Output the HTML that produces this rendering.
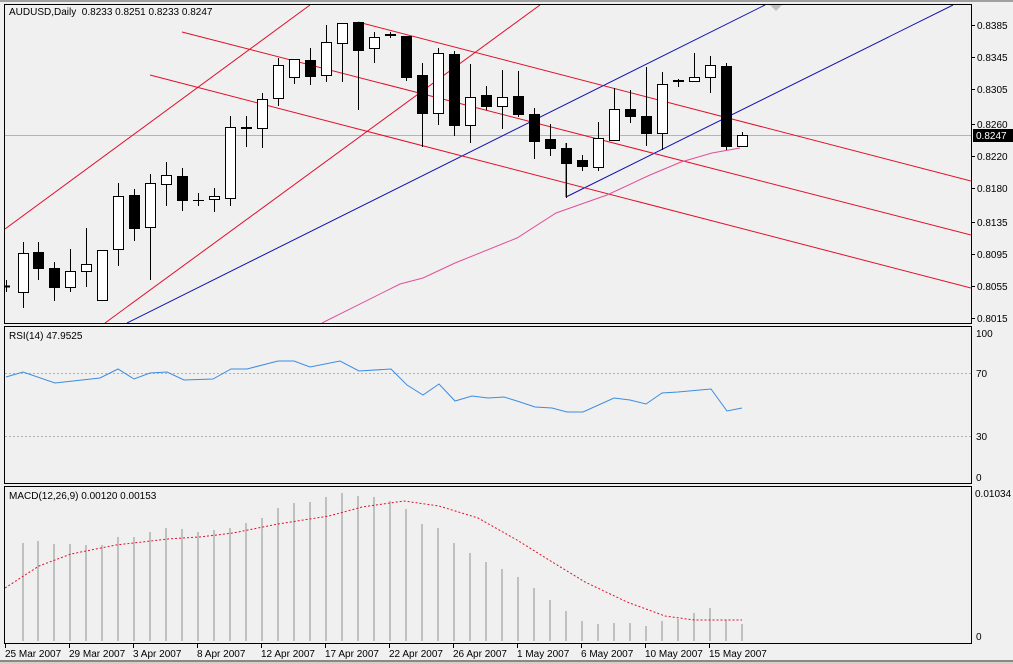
<!DOCTYPE html>
<html><head><meta charset="utf-8"><style>
html,body{margin:0;padding:0;background:#d4d0c8;}
svg{display:block;}
text{font-family:"Liberation Sans",sans-serif;font-size:10px;fill:#000;}
</style></head><body>
<svg width="1013" height="664" viewBox="0 0 1013 664" xmlns="http://www.w3.org/2000/svg" shape-rendering="crispEdges">
<rect x="0" y="0" width="1013" height="664" fill="#f0f0f0"/>
<rect x="0" y="0" width="1013" height="2" fill="#a0a0a0"/>
<rect x="0" y="660" width="1013" height="4" fill="#d4d0c8"/>
<line x1="0" y1="661" x2="1013" y2="661" stroke="#404040"/>
<!-- panel borders -->
<g stroke="#000" fill="none">
<rect x="4.5" y="4.5" width="967" height="319"/>
<rect x="4.5" y="326.5" width="967" height="157"/>
<rect x="4.5" y="486.5" width="967" height="157"/>
</g>
<!-- main panel -->
<defs><clipPath id="m"><rect x="5" y="5" width="966" height="318"/></clipPath>
<clipPath id="r"><rect x="5" y="327" width="966" height="156"/></clipPath>
<clipPath id="d"><rect x="5" y="487" width="966" height="156"/></clipPath></defs>
<line x1="5" y1="135.5" x2="971" y2="135.5" stroke="#b4b4b4"/>
<g clip-path="url(#m)" fill="none" shape-rendering="auto">
<line x1="5" y1="229" x2="310" y2="5" stroke="#e0102a"/>
<line x1="105" y1="323" x2="540" y2="5" stroke="#e0102a"/>
<line x1="127" y1="323" x2="765" y2="5" stroke="#1010b0"/>
<polyline points="5000,0" stroke="none"/>
<line x1="566" y1="197" x2="953" y2="5" stroke="#1010b0"/>
<line x1="566" y1="197" x2="566" y2="143" stroke="#1010b0"/>
<line x1="358" y1="22" x2="971" y2="181" stroke="#e0102a"/>
<line x1="182" y1="32" x2="971" y2="235" stroke="#e0102a"/>
<line x1="150" y1="75" x2="971" y2="288" stroke="#e0102a"/>
<polyline stroke="#e0509a" points="322,323 400,284 423,278 455,263 517,238 556,213 607,195 650,175 681,162 712,153 740,148"/>
<polygon points="770,5 782,5 776,11" fill="#c0c0c0"/>
</g>
<g stroke="#000">
<line x1="6.5" y1="280" x2="6.5" y2="292"/><line x1="4" y1="286.5" x2="10" y2="286.5" stroke-width="2"/>
<line x1="23.5" y1="242" x2="23.5" y2="308"/><rect x="18.5" y="253.5" width="10" height="39" fill="#fff"/>
<line x1="38.5" y1="242" x2="38.5" y2="280"/><rect x="33.5" y="252.5" width="10" height="16" fill="#000"/>
<line x1="54.5" y1="262" x2="54.5" y2="301"/><rect x="49.5" y="268.5" width="10" height="19" fill="#000"/>
<line x1="70.5" y1="249" x2="70.5" y2="292"/><rect x="65.5" y="271.5" width="10" height="16" fill="#fff"/>
<line x1="86.5" y1="228" x2="86.5" y2="287"/><rect x="81.5" y="264.5" width="10" height="7" fill="#fff"/>
<rect x="97.5" y="250.5" width="10" height="50" fill="#fff"/>
<line x1="118.5" y1="183" x2="118.5" y2="266"/><rect x="113.5" y="196.5" width="10" height="53" fill="#fff"/>
<line x1="134.5" y1="189" x2="134.5" y2="241"/><rect x="129.5" y="195.5" width="10" height="33" fill="#000"/>
<line x1="150.5" y1="174" x2="150.5" y2="280"/><rect x="145.5" y="183.5" width="10" height="44" fill="#fff"/>
<line x1="166.5" y1="162" x2="166.5" y2="206"/><rect x="161.5" y="175.5" width="10" height="9" fill="#fff"/>
<line x1="182.5" y1="168" x2="182.5" y2="211"/><rect x="177.5" y="176.5" width="10" height="24" fill="#000"/>
<line x1="198.5" y1="193" x2="198.5" y2="206"/><line x1="193" y1="200.5" x2="204" y2="200.5"/>
<line x1="214.5" y1="188" x2="214.5" y2="212"/><rect x="209.5" y="196.5" width="10" height="3" fill="#fff"/>
<line x1="230.5" y1="116" x2="230.5" y2="206"/><rect x="225.5" y="127.5" width="10" height="71" fill="#fff"/>
<line x1="246.5" y1="116" x2="246.5" y2="147"/><line x1="241" y1="128" x2="252" y2="128" stroke-width="2"/>
<line x1="262.5" y1="93" x2="262.5" y2="148"/><rect x="257.5" y="99.5" width="10" height="29" fill="#fff"/>
<line x1="278.5" y1="58" x2="278.5" y2="106"/><rect x="273.5" y="65.5" width="10" height="33" fill="#fff"/>
<line x1="294.5" y1="59" x2="294.5" y2="84"/><rect x="289.5" y="59.5" width="10" height="18" fill="#fff"/>
<line x1="310.5" y1="48" x2="310.5" y2="85"/><rect x="305.5" y="60.5" width="10" height="16" fill="#000"/>
<line x1="326.5" y1="25" x2="326.5" y2="82"/><rect x="321.5" y="42.5" width="10" height="33" fill="#fff"/>
<line x1="342.5" y1="23" x2="342.5" y2="82"/><rect x="337.5" y="23.5" width="10" height="20" fill="#fff"/>
<line x1="358.5" y1="22" x2="358.5" y2="110"/><rect x="353.5" y="22.5" width="10" height="28" fill="#000"/>
<line x1="374.5" y1="32" x2="374.5" y2="63"/><rect x="369.5" y="37.5" width="10" height="11" fill="#fff"/>
<line x1="390.5" y1="32" x2="390.5" y2="38"/><line x1="385" y1="35" x2="396" y2="35" stroke-width="2"/>
<line x1="406.5" y1="36" x2="406.5" y2="81"/><rect x="401.5" y="36.5" width="10" height="41" fill="#000"/>
<line x1="422.5" y1="63" x2="422.5" y2="147"/><rect x="417.5" y="75.5" width="10" height="38" fill="#000"/>
<line x1="438.5" y1="48" x2="438.5" y2="125"/><rect x="433.5" y="53.5" width="10" height="60" fill="#fff"/>
<line x1="454.5" y1="51" x2="454.5" y2="136"/><rect x="449.5" y="54.5" width="10" height="71" fill="#000"/>
<line x1="470.5" y1="64" x2="470.5" y2="143"/><rect x="465.5" y="97.5" width="10" height="28" fill="#fff"/>
<line x1="486.5" y1="86" x2="486.5" y2="110"/><rect x="481.5" y="95.5" width="10" height="11" fill="#000"/>
<line x1="502.5" y1="70" x2="502.5" y2="129"/><rect x="497.5" y="97.5" width="10" height="9" fill="#fff"/>
<line x1="518.5" y1="71" x2="518.5" y2="117"/><rect x="513.5" y="96.5" width="10" height="18" fill="#000"/>
<line x1="534.5" y1="108" x2="534.5" y2="159"/><rect x="529.5" y="114.5" width="10" height="27" fill="#000"/>
<line x1="550.5" y1="124" x2="550.5" y2="156"/><rect x="545.5" y="139.5" width="10" height="9" fill="#000"/>
<line x1="566.5" y1="143" x2="566.5" y2="198"/><rect x="561.5" y="148.5" width="10" height="15" fill="#000"/>
<line x1="582.5" y1="155" x2="582.5" y2="171"/><rect x="577.5" y="160.5" width="10" height="6" fill="#000"/>
<line x1="598.5" y1="122" x2="598.5" y2="171"/><rect x="593.5" y="138.5" width="10" height="29" fill="#fff"/>
<line x1="614.5" y1="88" x2="614.5" y2="141"/><rect x="609.5" y="109.5" width="10" height="31" fill="#fff"/>
<line x1="630.5" y1="90" x2="630.5" y2="123"/><rect x="625.5" y="109.5" width="10" height="7" fill="#000"/>
<line x1="646.5" y1="67" x2="646.5" y2="146"/><rect x="641.5" y="116.5" width="10" height="17" fill="#000"/>
<line x1="662.5" y1="72" x2="662.5" y2="150"/><rect x="657.5" y="84.5" width="10" height="49" fill="#fff"/>
<line x1="678.5" y1="79" x2="678.5" y2="87"/><line x1="673" y1="81" x2="684" y2="81" stroke-width="2"/>
<line x1="694.5" y1="53" x2="694.5" y2="81"/><rect x="689.5" y="77.5" width="10" height="4" fill="#fff"/>
<line x1="710.5" y1="56" x2="710.5" y2="93"/><rect x="705.5" y="65.5" width="10" height="12" fill="#fff"/>
<line x1="726.5" y1="63" x2="726.5" y2="150"/><rect x="721.5" y="66.5" width="10" height="80" fill="#000"/>
<line x1="742.5" y1="132" x2="742.5" y2="146"/><rect x="737.5" y="135.5" width="10" height="11" fill="#fff"/>
</g>
<text x="9" y="15">AUDUSD,Daily&#160;&#160;0.8233 0.8251 0.8233 0.8247</text>
<!-- price axis -->
<g stroke="#000">
<line x1="972" y1="25.5" x2="975" y2="25.5"/><line x1="972" y1="57.5" x2="975" y2="57.5"/><line x1="972" y1="89.5" x2="975" y2="89.5"/><line x1="972" y1="124.5" x2="975" y2="124.5"/><line x1="972" y1="156.5" x2="975" y2="156.5"/><line x1="972" y1="188.5" x2="975" y2="188.5"/><line x1="972" y1="222.5" x2="975" y2="222.5"/><line x1="972" y1="254.5" x2="975" y2="254.5"/><line x1="972" y1="286.5" x2="975" y2="286.5"/><line x1="972" y1="318.5" x2="975" y2="318.5"/>
</g>
<g>
<text x="977" y="29">0.8385</text><text x="977" y="61">0.8345</text><text x="977" y="93">0.8305</text><text x="977" y="128">0.8260</text><text x="977" y="160">0.8220</text><text x="977" y="192">0.8180</text><text x="977" y="226">0.8135</text><text x="977" y="258">0.8095</text><text x="977" y="290">0.8055</text><text x="977" y="322">0.8015</text>
</g>
<rect x="973" y="129" width="40" height="13" fill="#000"/>
<text x="976" y="139" style="fill:#fff">0.8247</text>
<!-- RSI -->
<g stroke="#b0b0b0" stroke-dasharray="2,2"><line x1="5" y1="373.5" x2="971" y2="373.5"/><line x1="5" y1="436.5" x2="971" y2="436.5"/></g>
<g clip-path="url(#r)" shape-rendering="auto">
<polyline fill="none" stroke="#3c8ce0" points="6,377 23,372 55,383 100,378 118,369 134,379 150,373 167,372 184,380 213,379 231,369 247,369 278,361 294,361 310,367 340,361 359,371 391,369 407,385 423,395 439,384 455,401 472,396 488,398 504,397 517,401 535,407 552,408 567,412 583,412 614,398 630,400 646,404 662,393 678,392 711,389 727,411 742,408"/>
</g>
<text x="9" y="339">RSI(14) 47.9525</text>
<text x="976" y="337">100</text><text x="976" y="377">70</text><text x="976" y="440">30</text><text x="976" y="481">0</text>
<!-- MACD -->
<g stroke="#c0c0c0" stroke-width="2">
<line x1="23" y1="543" x2="23" y2="641"/><line x1="38" y1="541" x2="38" y2="641"/><line x1="54" y1="544" x2="54" y2="641"/><line x1="70" y1="544" x2="70" y2="641"/><line x1="86" y1="545" x2="86" y2="641"/><line x1="102" y1="545" x2="102" y2="641"/><line x1="118" y1="537" x2="118" y2="641"/><line x1="134" y1="537" x2="134" y2="641"/><line x1="150" y1="532" x2="150" y2="641"/><line x1="166" y1="528" x2="166" y2="641"/><line x1="182" y1="529" x2="182" y2="641"/><line x1="198" y1="532" x2="198" y2="641"/><line x1="214" y1="530" x2="214" y2="641"/><line x1="230" y1="528" x2="230" y2="641"/><line x1="246" y1="523" x2="246" y2="641"/><line x1="262" y1="518" x2="262" y2="641"/><line x1="278" y1="508" x2="278" y2="641"/><line x1="294" y1="503" x2="294" y2="641"/><line x1="310" y1="502" x2="310" y2="641"/><line x1="326" y1="497" x2="326" y2="641"/><line x1="342" y1="493" x2="342" y2="641"/><line x1="358" y1="496" x2="358" y2="641"/><line x1="374" y1="497" x2="374" y2="641"/><line x1="390" y1="501" x2="390" y2="641"/><line x1="406" y1="509" x2="406" y2="641"/><line x1="422" y1="524" x2="422" y2="641"/><line x1="438" y1="528" x2="438" y2="641"/><line x1="454" y1="543" x2="454" y2="641"/><line x1="470" y1="553" x2="470" y2="641"/><line x1="486" y1="562" x2="486" y2="641"/><line x1="502" y1="569" x2="502" y2="641"/><line x1="518" y1="577" x2="518" y2="641"/><line x1="534" y1="588" x2="534" y2="641"/><line x1="550" y1="600" x2="550" y2="641"/><line x1="566" y1="611" x2="566" y2="641"/><line x1="582" y1="621" x2="582" y2="641"/><line x1="598" y1="624" x2="598" y2="641"/><line x1="614" y1="623" x2="614" y2="641"/><line x1="630" y1="623" x2="630" y2="641"/><line x1="646" y1="626" x2="646" y2="641"/><line x1="662" y1="621" x2="662" y2="641"/><line x1="678" y1="619" x2="678" y2="641"/><line x1="694" y1="613" x2="694" y2="641"/><line x1="710" y1="608" x2="710" y2="641"/><line x1="726" y1="620" x2="726" y2="641"/><line x1="742" y1="624" x2="742" y2="641"/>
</g>
<g clip-path="url(#d)" shape-rendering="auto">
<polyline fill="none" stroke="#e0102a" stroke-dasharray="2,2" points="5,588 39,566 71,554 116,545 168,539 200,537 233,533 278,524 329,516 362,507 404,501 439,506 478,518 517,540 549,560 585,582 627,602 665,616 694,620 742,620"/>
</g>
<text x="9" y="499">MACD(12,26,9) 0.00120 0.00153</text>
<text x="975" y="497">0.01034</text><text x="976" y="640">0</text>
<!-- date axis -->
<g stroke="#000">
<line x1="5.5" y1="644" x2="5.5" y2="648"/><line x1="69.5" y1="644" x2="69.5" y2="648"/><line x1="133.5" y1="644" x2="133.5" y2="648"/><line x1="197.5" y1="644" x2="197.5" y2="648"/><line x1="261.5" y1="644" x2="261.5" y2="648"/><line x1="325.5" y1="644" x2="325.5" y2="648"/><line x1="389.5" y1="644" x2="389.5" y2="648"/><line x1="453.5" y1="644" x2="453.5" y2="648"/><line x1="517.5" y1="644" x2="517.5" y2="648"/><line x1="581.5" y1="644" x2="581.5" y2="648"/><line x1="645.5" y1="644" x2="645.5" y2="648"/><line x1="709.5" y1="644" x2="709.5" y2="648"/>
</g>
<g>
<text x="5" y="657">25 Mar 2007</text><text x="69" y="657">29 Mar 2007</text><text x="133" y="657">3 Apr 2007</text><text x="197" y="657">8 Apr 2007</text><text x="261" y="657">12 Apr 2007</text><text x="325" y="657">17 Apr 2007</text><text x="389" y="657">22 Apr 2007</text><text x="453" y="657">26 Apr 2007</text><text x="517" y="657">1 May 2007</text><text x="581" y="657">6 May 2007</text><text x="645" y="657">10 May 2007</text><text x="709" y="657">15 May 2007</text>
</g>
</svg>
</body></html>
